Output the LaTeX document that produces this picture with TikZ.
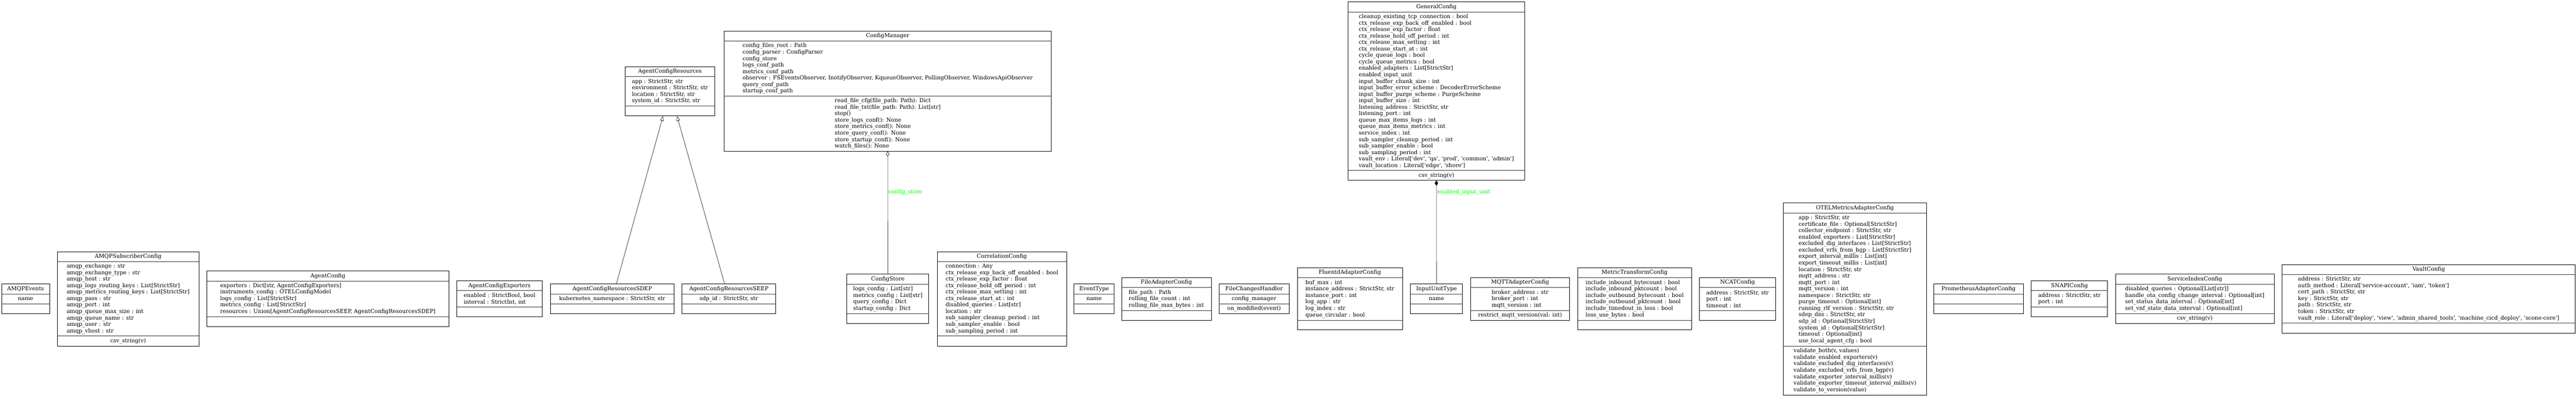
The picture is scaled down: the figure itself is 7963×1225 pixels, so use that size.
\documentclass[tikz,border=0pt]{standalone}
\usepackage{fontspec}
\newfontfamily\umlfont{DejaVu Serif}
\usetikzlibrary{arrows.meta,fit}
\definecolor{rolegreen}{HTML}{00FF00}
\tikzset{
  x=0.75pt, y=-0.75pt,
  umlframe/.style={draw=black, line width=0.9pt, inner sep=0pt},
  umlsep/.style={draw=black!80, line width=1.1pt},
  umltext/.style={inner sep=0pt, align=left, font=\umlfont\fontsize{12.75pt}{15pt}\selectfont},
  umltitle/.style={inner sep=0pt, font=\umlfont\fontsize{12.75pt}{15pt}\selectfont},
  edgeline/.style={draw=black, line width=0.75pt},
  inherit/.style={edgeline, -{Triangle[open,length=11pt,width=8pt]}},
  aggreg/.style={edgeline, {Diamond[open,length=12pt,width=8pt]}-},
  compos/.style={edgeline, {Diamond[length=12pt,width=8pt]}-},
  rolelabel/.style={inner sep=0pt, anchor=west, text=rolegreen, font=\umlfont\fontsize{12.75pt}{15pt}\selectfont}
}
% name, x1, x2, ytop, yattrsep, ybottom, title, attributes, methods
\newcommand\umlbox[9]{%
  \node[umlframe, fit={({#2},{#4}) ({#3},{#6})}] (#1) {};
  \draw[umlsep] ({#2},{#4+31}) -- ({#3},{#4+31});
  \draw[umlsep] ({#2},{#5}) -- ({#3},{#5});
  \node[umltitle] (#1-t) at ({(#2+#3)/2},{#4+15.5}) {#7};
  \node[umltext] (#1-a) at ({(#2+#3)/2},{(#4+31+#5)/2}) {#8};
  \node[umltext] (#1-m) at ({(#2+#3)/2},{(#5+#6)/2}) {#9};
}
\begin{document}
\begin{tikzpicture}
\useasboundingbox (0,0) rectangle (7963,1225);

\umlbox{amqpev}{5}{153}{877}{938}{969}{AMQPEvents}{name}{}

\umlbox{amqpsub}{177}{615}{777}{1038}{1069}{AMQPSubscriberConfig}{%
amqp\_exchange : str\\
amqp\_exchange\_type : str\\
amqp\_host : str\\
amqp\_logs\_routing\_keys : List[StrictStr]\\
amqp\_metrics\_routing\_keys : List[StrictStr]\\
amqp\_pass : str\\
amqp\_port : int\\
amqp\_queue\_max\_size : int\\
amqp\_queue\_name : str\\
amqp\_user : str\\
amqp\_vhost : str}{csv\_string(v)}

\umlbox{agent}{640}{1387}{837}{978}{1009}{AgentConfig}{%
exporters : Dict[str, AgentConfigExporters]\\
instruments\_config : OTELConfigModel\\
logs\_config : List[StrictStr]\\
metrics\_config : List[StrictStr]\\
resources : Union[AgentConfigResourcesSEEP, AgentConfigResourcesSDEP]}{}

\umlbox{agentexp}{1412}{1676}{867}{948}{979}{AgentConfigExporters}{%
enabled : StrictBool, bool\\
interval : StrictInt, int}{}

\umlbox{sdep}{1702}{2083}{877}{938}{969}{AgentConfigResourcesSDEP}{%
kubernetes\_namespace : StrictStr, str}{}

\umlbox{seep}{2108}{2398}{877}{938}{969}{AgentConfigResourcesSEEP}{%
sdp\_id : StrictStr, str}{}

\umlbox{acr}{1932}{2210}{206}{328}{358}{AgentConfigResources}{%
app : StrictStr, str\\
environment : StrictStr, str\\
location : StrictStr, str\\
system\_id : StrictStr, str}{}

\umlbox{cm}{2238}{3250}{96}{297}{467}{ConfigManager}{%
config\_files\_root : Path\\
config\_parser : ConfigParser\\
config\_store\\
logs\_conf\_path\\
metrics\_conf\_path\\
observer : FSEventsObserver, InotifyObserver, KqueueObserver, PollingObserver, WindowsApiObserver\\
query\_conf\_path\\
startup\_conf\_path}{%
read\_file\_cfg(file\_path: Path): Dict\\
read\_file\_txt(file\_path: Path): List[str]\\
stop()\\
store\_logs\_conf(): None\\
store\_metrics\_conf(): None\\
store\_query\_conf(): None\\
store\_startup\_conf(): None\\
watch\_files(): None}

\umlbox{gen}{4167}{4713}{6}{527}{557}{GeneralConfig}{%
cleanup\_existing\_tcp\_connection : bool\\
ctx\_release\_exp\_back\_off\_enabled : bool\\
ctx\_release\_exp\_factor : float\\
ctx\_release\_hold\_off\_period : int\\
ctx\_release\_max\_setting : int\\
ctx\_release\_start\_at : int\\
cycle\_queue\_logs : bool\\
cycle\_queue\_metrics : bool\\
enabled\_adapters : List[StrictStr]\\
enabled\_input\_unit\\
input\_buffer\_chunk\_size : int\\
input\_buffer\_error\_scheme : DecoderErrorScheme\\
input\_buffer\_purge\_scheme : PurgeScheme\\
input\_buffer\_size : int\\
listening\_address : StrictStr, str\\
listening\_port : int\\
queue\_max\_items\_logs : int\\
queue\_max\_items\_metrics : int\\
service\_index : int\\
sub\_sampler\_cleanup\_period : int\\
sub\_sampler\_enable : bool\\
sub\_sampling\_period : int\\
vault\_env : Literal['dev', 'qa', 'prod', 'common', 'admin']\\
vault\_location : Literal['edge', 'shore']}{csv\_string(v)}

\umlbox{cs}{2618}{2871}{847}{969}{999}{ConfigStore}{%
logs\_config : List[str]\\
metrics\_config : List[str]\\
query\_config : Dict\\
startup\_config : Dict}{}

\umlbox{corr}{2897}{3297}{777}{1038}{1069}{CorrelationConfig}{%
connection : Any\\
ctx\_release\_exp\_back\_off\_enabled : bool\\
ctx\_release\_exp\_factor : float\\
ctx\_release\_hold\_off\_period : int\\
ctx\_release\_max\_setting : int\\
ctx\_release\_start\_at : int\\
disabled\_queries : List[str]\\
location : str\\
sub\_sampler\_cleanup\_period : int\\
sub\_sampler\_enable : bool\\
sub\_sampling\_period : int}{}

\umlbox{evt}{3320}{3444}{877}{938}{969}{EventType}{name}{}

\umlbox{fileadp}{3467}{3744}{857}{959}{989}{FileAdapterConfig}{%
file\_path : Path\\
rolling\_file\_count : int\\
rolling\_file\_max\_bytes : int}{}

\umlbox{fch}{3768}{3985}{877}{938}{969}{FileChangesHandler}{config\_manager}{on\_modified(event)}

\umlbox{fluentd}{4010}{4335}{827}{989}{1019}{FluentdAdapterConfig}{%
buf\_max : int\\
instance\_address : StrictStr, str\\
instance\_port : int\\
log\_app : str\\
log\_index : str\\
queue\_circular : bool}{}

\umlbox{iut}{4360}{4521}{877}{938}{969}{InputUnitType}{name}{}

\umlbox{mqtt}{4546}{4852}{857}{959}{989}{MQTTAdapterConfig}{%
broker\_address : str\\
broker\_port : int\\
mqtt\_version : int}{restrict\_mqtt\_version(val: int)}

\umlbox{mtc}{4877}{5229}{827}{989}{1019}{MetricTransformConfig}{%
include\_inbound\_bytecount : bool\\
include\_inbound\_pktcount : bool\\
include\_outbound\_bytecount : bool\\
include\_outbound\_pktcount : bool\\
include\_timedout\_in\_loss : bool\\
loss\_use\_bytes : bool}{}

\umlbox{ncat}{5253}{5489}{857}{959}{989}{NCATConfig}{%
address : StrictStr, str\\
port : int\\
timeout : int}{}

\umlbox{otel}{5513}{5955}{627}{1069}{1220}{OTELMetricsAdapterConfig}{%
app : StrictStr, str\\
certificate\_file : Optional[StrictStr]\\
collector\_endpoint : StrictStr, str\\
enabled\_exporters : List[StrictStr]\\
excluded\_dig\_interfaces : List[StrictStr]\\
excluded\_vrfs\_from\_bgp : List[StrictStr]\\
export\_interval\_millis : List[int]\\
export\_timeout\_millis : List[int]\\
location : StrictStr, str\\
mqtt\_address : str\\
mqtt\_port : int\\
mqtt\_version : int\\
namespace : StrictStr, str\\
purge\_timeout : Optional[int]\\
running\_rlf\_version : StrictStr, str\\
sdep\_dns : StrictStr, str\\
sdp\_id : Optional[StrictStr]\\
system\_id : Optional[StrictStr]\\
timeout : Optional[int]\\
use\_local\_agent\_cfg : bool}{%
validate\_both(v, values)\\
validate\_enabled\_exporters(v)\\
validate\_excluded\_dig\_interfaces(v)\\
validate\_excluded\_vrfs\_from\_bgp(v)\\
validate\_exporter\_interval\_millis(v)\\
validate\_exporter\_timeout\_interval\_millis(v)\\
validate\_to\_version(value)}

\umlbox{prom}{5978}{6254}{877}{938}{969}{PrometheusAdapterConfig}{}{}

\umlbox{snapi}{6279}{6515}{867}{948}{979}{SNAPIConfig}{%
address : StrictStr, str\\
port : int}{}

\umlbox{sic}{6539}{7030}{847}{969}{999}{ServiceIndexConfig}{%
disabled\_queries : Optional[List[str]]\\
handle\_ota\_config\_change\_interval : Optional[int]\\
set\_status\_data\_interval : Optional[int]\\
set\_vnf\_state\_data\_interval : Optional[int]}{csv\_string(v)}

\umlbox{vault}{7054}{7961}{817}{998}{1029}{VaultConfig}{%
address : StrictStr, str\\
auth\_method : Literal['service-account', 'iam', 'token']\\
cert\_path : StrictStr, str\\
key : StrictStr, str\\
path : StrictStr, str\\
token : StrictStr, str\\
vault\_role : Literal['deploy', 'view', 'admin\_shared\_tools', 'machine\_cicd\_deploy', 'scone-core']}{}

% connectors
\draw[inherit] (sdep) -- (acr);
\draw[inherit] (seep) -- (acr);
\draw[aggreg] (cm) -- (cs);
\node[rolelabel] (lblcs) at (2745,593) {config\_store};
\draw[compos] (gen) -- (iut);
\node[rolelabel] (lbliut) at (4442,593) {enabled\_input\_unit};
\end{tikzpicture}
\end{document}
